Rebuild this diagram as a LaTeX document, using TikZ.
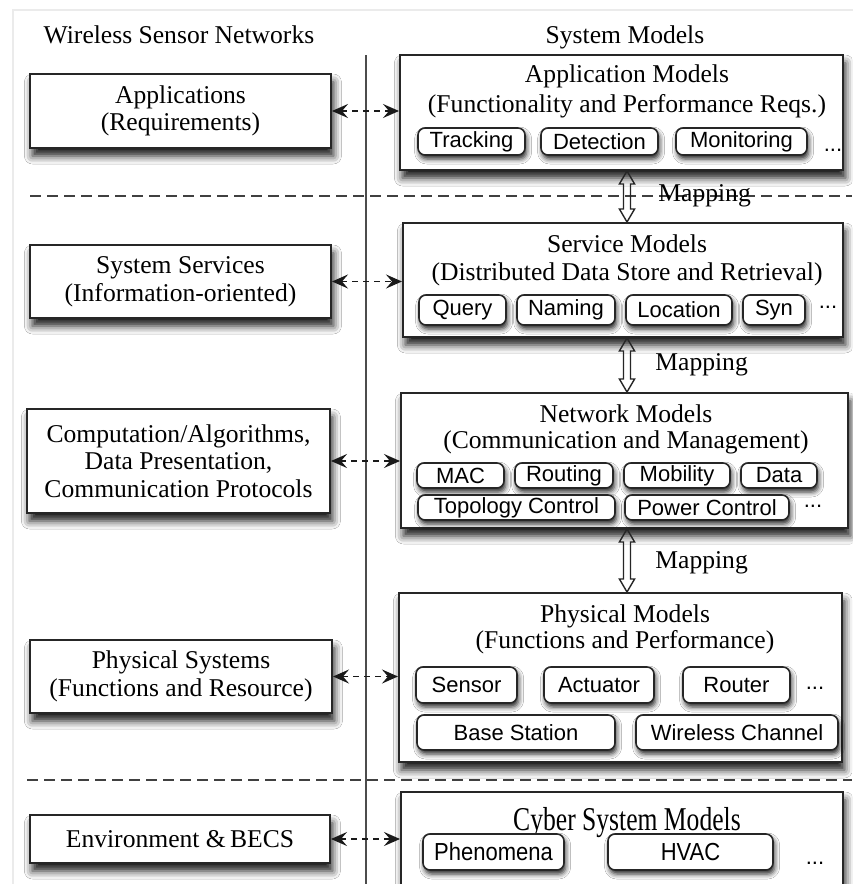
\documentclass[tikz,border=0pt]{standalone}
\usepackage{fontspec}
\setmainfont{Liberation Serif}
\setsansfont{Liberation Sans}
\usetikzlibrary{arrows.meta,fit,shadows.blur,calc}

\tikzset{ltip/.tip={Stealth[length=8pt,width=7pt,inset=3pt]}}

% hollow double-headed block arrow between two points (top tip, bottom tip)
\newcommand\maparrowpath[2]{%
  \path (#1) ++(0pt,-6.5pt) coordinate (mht) (#2) ++(0pt,6.5pt) coordinate (mhb);
  \draw[maparrow] (#1) -- ($(mht)+(3.8pt,0pt)$) -- ($(mht)+(1.75pt,0pt)$)
    -- ($(mhb)+(1.75pt,0pt)$) -- ($(mhb)+(3.8pt,0pt)$) -- (#2)
    -- ($(mhb)+(-3.8pt,0pt)$) -- ($(mhb)+(-1.75pt,0pt)$)
    -- ($(mht)+(-1.75pt,0pt)$) -- ($(mht)+(-3.8pt,0pt)$) -- cycle;}

\begin{document}
\begin{tikzpicture}[x=0.5pt,y=-0.5pt,
  serif/.style={font=\fontsize{12.8}{13.8}\selectfont},
  heading/.style={serif, anchor=base, inner sep=0pt},
  deepshadow/.style={blur shadow={shadow xshift=1.2pt, shadow yshift=-4pt,
    shadow blur radius=4pt, shadow opacity=90}},
  lbox/.style={draw=black!85, line width=1pt, fill=white, inner sep=0pt, deepshadow},
  ltext/.style={serif, align=center, inner sep=0pt},
  mbox/.style={draw=black!85, line width=1pt, fill=white, inner sep=0pt, deepshadow},
  pill/.style={draw=black!85, line width=0.8pt, rounded corners=3.5pt, fill=white,
    inner sep=0pt,
    blur shadow={shadow xshift=0.8pt, shadow yshift=-2pt, shadow blur radius=2.5pt, shadow opacity=85}},
  ptext/.style={font=\sffamily\fontsize{11}{12}\selectfont, inner sep=0pt},
  more/.style={font=\sffamily\fontsize{11}{12}\selectfont, inner sep=0pt},
  link/.style={line width=0.8pt, black!90, dash pattern=on 3pt off 2.5pt, {ltip}-{ltip}},
  sepline/.style={line width=1.2pt, black!75, dash pattern=on 5.5pt off 3pt},
  maparrow/.style={line width=0.7pt, black!85, line join=miter},
  maplabel/.style={serif, anchor=base west, inner sep=0pt}]

\useasboundingbox (0,0) rectangle (852,884);
\fill[white] (0,0) rectangle (852,884);
\draw[black!8, line width=0.6pt] (13,10) rectangle (880,900);

% column headings
\node[heading] (hwsn) at (179,43) {Wireless Sensor Networks};
\node[heading] (hsys) at (625,43) {System Models};

% column divider and layer separators
\coordinate (divtop) at (366,55);
\coordinate (divbot) at (366,884);
\draw[black!70, line width=1pt] (divtop) -- (divbot);
\coordinate (s1a) at (30,196);  \coordinate (s1b) at (852,196);
\coordinate (s2a) at (27,780);  \coordinate (s2b) at (852,780);
\draw[sepline] (s1a) -- (s1b);
\draw[sepline] (s2a) -- (s2b);

% left column
\node[lbox, fit={(30,74) (331,148)}, label={[ltext]center:Applications\\(Requirements)}] (lapp) {};
\node[lbox, fit={(30,245) (331,318)}, label={[ltext]center:System Services\\(Information-oriented)}] (lsvc) {};
\node[lbox, fit={(27,409) (330,513)}, label={[ltext]center:Computation/Algorithms,\\Data Presentation,\\Communication Protocols}] (lnet) {};
\node[lbox, fit={(30,640) (332,713)}, label={[ltext]center:Physical Systems\\(Functions and Resource)}] (lphy) {};
\node[lbox, fit={(30,815) (330,863)}, label={[ltext]center:Environment \&\,BECS}] (lenv) {};

% right column: model layers
\node[mbox, fit={(400,55) (843,170)}]  (appm) {};
\node[mbox, fit={(403,223) (843,337)}] (svcm) {};
\node[mbox, fit={(401,393) (848,528)}] (netm) {};
\node[mbox, fit={(399,593) (842,762)}] (phym) {};
\node[mbox, fit={(401,792) (843,905)}] (cybm) {};

% application models
\node[heading] (appt1) at (627,82)  {Application Models};
\node[heading] (appt2) at (627,112) {(Functionality and Performance Reqs.)};
\node[pill, fit={(418,128) (525,155)}, label={[ptext]center:Tracking}] (trk) {};
\node[pill, fit={(541,128) (658,155)}, label={[ptext]center:Detection}] (det) {};
\node[pill, fit={(676,128) (807,155)}, label={[ptext]center:Monitoring}] (mon) {};
\node[more] (appx) at (833,150) {...};

% service models
\node[heading] (svct1) at (627,252) {Service Models};
\node[heading] (svct2) at (627,280) {(Distributed Data Store and Retrieval)};
\node[pill, fit={(419,295) (506,325)}, label={[ptext]center:Query}] (qry) {};
\node[pill, fit={(517,295) (615,325)}, label={[ptext]center:Naming}] (nam) {};
\node[pill, fit={(626,295) (732,325)}, label={[ptext]center:Location}] (loc) {};
\node[pill, fit={(743,295) (805,325)}, label={[ptext]center:Syn}] (syn) {};
\node[more] (svcx) at (828,307) {...};

% network models
\node[heading] (nett1) at (626,422) {Network Models};
\node[heading] (nett2) at (626,448) {(Communication and Management)};
\node[pill, fit={(417,463) (504,488)}, label={[ptext]center:MAC}] (mac) {};
\node[pill, fit={(515,463) (613,488)}, label={[ptext]center:Routing}] (rte) {};
\node[pill, fit={(624,463) (730,488)}, label={[ptext]center:Mobility}] (mob) {};
\node[pill, fit={(741,463) (817,488)}, label={[ptext]center:Data}] (dat) {};
\node[pill, fit={(418,495) (615,520)}, label={[ptext]center:Topology Control}] (top) {};
\node[pill, fit={(625,495) (789,520)}, label={[ptext]center:Power Control}] (pwr) {};
\node[more] (netx) at (813,506) {...};

% physical models
\node[heading] (phyt1) at (625,622) {Physical Models};
\node[heading] (phyt2) at (625,648) {(Functions and Performance)};
\node[pill, fit={(416,667) (517,703)}, label={[ptext]center:Sensor}] (sen) {};
\node[pill, fit={(544,667) (654,703)}, label={[ptext]center:Actuator}] (act) {};
\node[pill, fit={(683,667) (790,703)}, label={[ptext]center:Router}] (rtr) {};
\node[more] (phyx) at (815,688) {...};
\node[pill, fit={(417,715) (615,750)}, label={[ptext]center:Base Station}] (bst) {};
\node[pill, fit={(636,715) (838,750)}, label={[ptext]center:Wireless Channel}] (wch) {};

% cyber system models
\node[heading] (cybt) at (627,830) {\scalebox{1}[1.3]{Cyber System Models}};
\node[pill, fit={(423,834) (564,870)}, label={[ptext]center:\scalebox{1}[1.12]{Phenomena}}] (phe) {};
\node[pill, fit={(608,834) (773,870)}, label={[ptext]center:\scalebox{1}[1.12]{HVAC}}] (hva) {};
\node[more] (cybx) at (815,863) {...};

% correspondences between the two columns
\draw[link] (lapp.east) -- (lapp.east -| appm.west);
\draw[link] (lsvc.east) -- (lsvc.east -| svcm.west);
\draw[link] (lnet.east) -- (lnet.east -| netm.west);
\draw[link] (lphy.east) -- (lphy.east -| phym.west);
\draw[link] (lenv.east) -- (lenv.east -| cybm.west);

% mappings between model layers
\coordinate (mx) at (627,0);
\maparrowpath{appm.south -| mx}{svcm.north -| mx}
\maparrowpath{svcm.south -| mx}{netm.north -| mx}
\maparrowpath{netm.south -| mx}{phym.north -| mx}
\node[maplabel] (map1) at (658,201) {Mapping};
\node[maplabel] (map2) at (655,370) {Mapping};
\node[maplabel] (map3) at (655,568) {Mapping};
\end{tikzpicture}
\end{document}
